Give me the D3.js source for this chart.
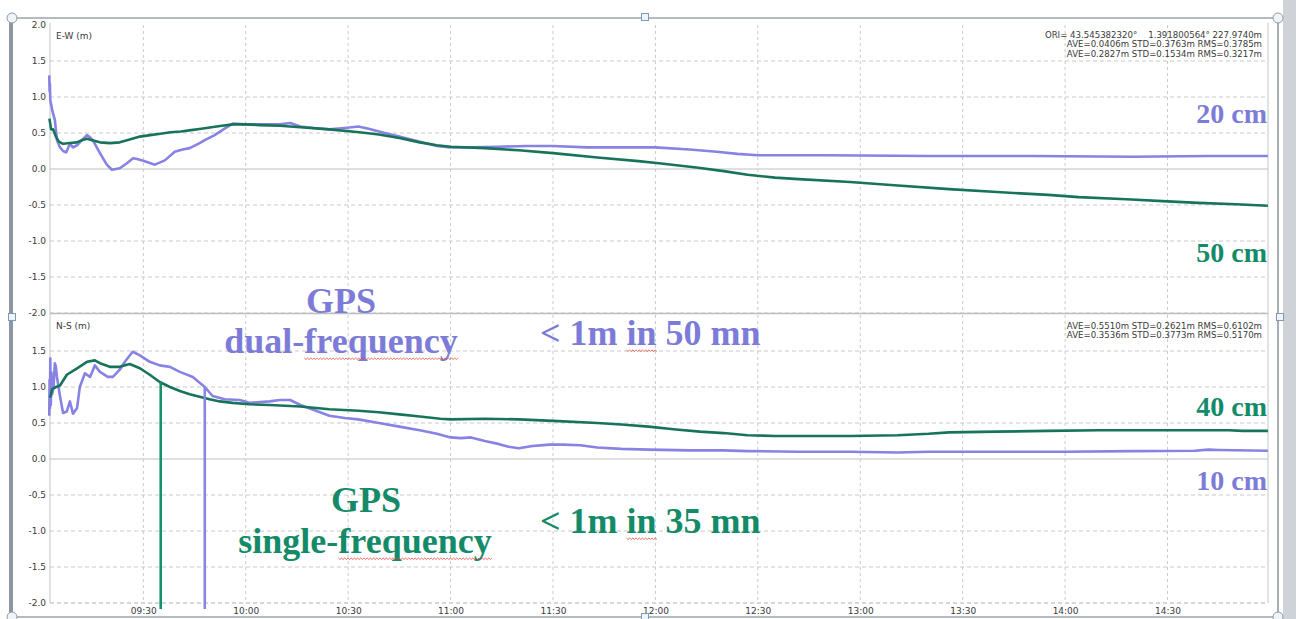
<!DOCTYPE html>
<html>
<head>
<meta charset="utf-8">
<script src="https://cdn.jsdelivr.net/npm/d3@7"></script>
<style>
  html, body { margin: 0; padding: 0; background: #fff; }
  svg { display: block; }
  .tick-label { font-family: "DejaVu Sans", sans-serif; font-size: 9px; fill: #3a3a3a; }
  .stats { font-family: "DejaVu Sans", sans-serif; font-size: 8.6px; fill: #3a3a3a; white-space: pre; }
  .big { font-family: "Liberation Serif", "Times New Roman", serif; font-weight: bold; }
</style>
</head>
<body>
<svg id="chart" width="1296" height="619"></svg>
<script>
// Positions in metres; time given in minutes after 09:00.
const ewSingle = [
  [2.5,0.70],[3.0,0.55],[3.6,0.55],[4.4,0.45],[5.3,0.38],[6.5,0.35],[8.5,0.36],[10.5,0.37],
  [12.0,0.40],[13.5,0.42],[15.0,0.40],[17.3,0.37],[20.2,0.36],[23.1,0.37],[26.0,0.41],[29.0,0.45],
  [32.0,0.47],[35.0,0.49],[38.0,0.51],[41.0,0.52],[44.0,0.54],[47.0,0.56],[50.0,0.58],[53.0,0.60],
  [56.2,0.62],[60,0.62],[64,0.61],[70,0.60],[76,0.58],[84.5,0.55],[93.3,0.51],[99,0.48],
  [105,0.43],[111,0.37],[116,0.33],[120,0.31],[130,0.29],[140,0.26],[150,0.22],[163,0.16],
  [175,0.11],[181,0.08],[192,0.02],[200,-0.03],[207,-0.08],[215,-0.12],[222,-0.14],[237,-0.18],
  [251,-0.23],[266,-0.28],[280,-0.32],[295,-0.36],[304,-0.39],[318,-0.42],[330,-0.45],[339,-0.47],
  [350,-0.49],[359.4,-0.51]
];
const ewDual = [
  [2.45,1.30],[2.55,1.08],[2.65,1.18],[2.75,0.95],[3.0,0.90],[3.4,0.80],[4.1,0.68],[4.7,0.40],
  [5.6,0.30],[6.5,0.25],[7.4,0.23],[8.5,0.35],[9.4,0.30],[10.6,0.33],[12.0,0.40],[13.5,0.47],
  [14.4,0.44],[15.2,0.40],[17.3,0.22],[19.3,0.06],[20.8,-0.01],[23.1,0.01],[25.2,0.08],[27.0,0.15],
  [28.2,0.14],[30.2,0.11],[33.4,0.06],[36.3,0.12],[39.2,0.24],[41.5,0.27],[43.6,0.29],[46.5,0.36],
  [48.0,0.40],[50.9,0.47],[53.8,0.56],[56.2,0.63],[60,0.62],[65,0.62],[70,0.62],[73,0.64],
  [76,0.59],[80,0.57],[84.5,0.55],[89,0.57],[93,0.59],[96,0.56],[99,0.52],[105,0.45],
  [111,0.38],[116,0.32],[120,0.30],[126,0.30],[134,0.31],[142,0.32],[150,0.32],[160,0.30],
  [170,0.30],[180,0.30],[190,0.27],[198,0.24],[204,0.21],[210,0.19],[230,0.19],[260,0.18],
  [290,0.18],[320,0.17],[342,0.18],[359.4,0.18]
];
const nsSingle = [
  [2.7,0.85],[3.3,0.97],[4.4,1.00],[5.6,1.02],[7.6,1.17],[10.6,1.26],[13.5,1.35],[15.8,1.37],
  [17.3,1.33],[20.2,1.28],[23.1,1.28],[26.0,1.32],[29.0,1.26],[31.9,1.17],[34.8,1.07],[37.8,1.00],
  [40.7,0.945],[43.6,0.90],[46.5,0.865],[49.4,0.83],[52.4,0.80],[56.2,0.78],[61.1,0.76],[67,0.75],
  [76,0.73],[84.5,0.69],[93,0.67],[99,0.65],[105,0.62],[111,0.59],[117,0.56],[120,0.55],
  [130,0.56],[140,0.55],[150,0.53],[163,0.50],[170,0.48],[178,0.45],[186,0.41],[193,0.38],
  [200,0.36],[207,0.33],[215,0.32],[222,0.32],[237,0.32],[251,0.33],[260,0.35],[266,0.37],
  [280,0.38],[295,0.39],[310,0.40],[330,0.40],[348,0.40],[352,0.39],[359.4,0.39]
];
const nsDual = [
  [2.45,0.60],[2.55,1.10],[2.65,0.70],[2.75,1.40],[2.9,0.75],[3.1,1.20],[3.3,0.90],[3.7,1.00],
  [4.1,1.33],[4.4,1.28],[4.7,1.14],[5.6,0.87],[6.5,0.64],[7.6,0.66],[8.5,0.80],[9.4,0.63],
  [10.6,0.71],[11.4,1.00],[12.9,1.19],[14.4,1.14],[15.8,1.30],[17.3,1.21],[19.6,1.14],[21.1,1.14],
  [23.1,1.24],[24.6,1.35],[26.9,1.49],[29.0,1.44],[31.9,1.35],[34.8,1.30],[37.8,1.28],[40.7,1.21],
  [44.5,1.14],[48.0,1.00],[50.3,0.875],[53.8,0.83],[58.2,0.82],[61.1,0.78],[67,0.80],[70,0.82],
  [73,0.82],[76,0.75],[80,0.68],[84.5,0.60],[89,0.57],[93,0.55],[99,0.50],[105,0.45],
  [111,0.40],[116,0.35],[120,0.30],[123,0.29],[126,0.30],[130,0.25],[134,0.21],[137,0.17],
  [140,0.15],[144,0.18],[149,0.20],[153,0.20],[158,0.19],[163,0.16],[170,0.14],[178,0.13],
  [190,0.12],[200,0.12],[207,0.11],[222,0.10],[237,0.10],[251,0.09],[260,0.10],[266,0.10],
  [280,0.10],[300,0.10],[320,0.11],[338,0.115],[342,0.13],[345,0.125],[359.4,0.115]
];

// Minutes after 09:00 at which each solution stays within 1 m, and the N-S value there
const convergeMin = [35.1, 48.0];
const convergeVal = [1.07, 1.00];

const timeTicks = ["09:30","10:00","10:30","11:00","11:30","12:00","12:30","13:00","13:30","14:00","14:30"];
const ewValueTicks = [-2, -1.5, -1, -0.5, 0, 0.5, 1, 1.5, 2];
const nsValueTicks = [-2, -1.5, -1, -0.5, 0, 0.5, 1, 1.5];
const timeDomainMin = [2.67, 359.43];

const ewStats = ["ORI= 43.545382320°    1.391800564° 227.9740m",
                 "AVE=0.0406m STD=0.3763m RMS=0.3785m",
                 "AVE=0.2827m STD=0.1534m RMS=0.3217m"];
const nsStats = ["AVE=0.5510m STD=0.2621m RMS=0.6102m",
                 "AVE=0.3536m STD=0.3773m RMS=0.5170m"];

const DUAL = "#8782e3", SINGLE = "#17745a";
const DUAL_TXT = "#7c7cd8", SINGLE_TXT = "#138a68";
const DUAL_MARK = "#8a85e2", SINGLE_MARK = "#16906b";

const svg = d3.select("#chart");
const base = new Date(2000, 0, 1, 9, 0, 0);
const toDate = m => new Date(base.getTime() + m * 60000);
const parseHM = d3.timeParse("%H:%M");
const hm = s => { const t = parseHM(s); return new Date(2000, 0, 1, t.getHours(), t.getMinutes()); };

const left = 50, right = 1268;
const x = d3.scaleTime().domain(timeDomainMin.map(toDate)).range([left, right]);
const yEW = d3.scaleLinear().domain([-2, 2]).range([313, 25]);
const yNS = d3.scaleLinear().domain([-2, 2]).range([603, 315]);

// ---- surrounding picture frame ----
svg.append("rect").attr("x", 1283).attr("y", 0).attr("width", 13).attr("height", 619).attr("fill", "#cfd2d6");
svg.append("rect").attr("x", 9).attr("y", 18).attr("width", 4).attr("height", 601).attr("fill", "#8c96a2");
svg.append("line").attr("x1", 12).attr("x2", 1278).attr("y1", 18).attr("y2", 18).attr("stroke", "#6d7782").attr("stroke-width", 1.2);
svg.append("line").attr("x1", 12).attr("x2", 1278).attr("y1", 617).attr("y2", 617).attr("stroke", "#6d7782").attr("stroke-width", 1.2);
svg.append("line").attr("x1", 1278).attr("x2", 1278).attr("y1", 18).attr("y2", 617).attr("stroke", "#6d7782").attr("stroke-width", 1.2);

function panel(y, ticks, dual, single, label, stats, top) {
  const g = svg.append("g");
  const y0 = y.range()[1], y1 = y.range()[0];

  // horizontal grid
  g.selectAll("line.hg").data(ticks.filter(v => v !== 0 && v !== 2)).join("line")
    .attr("x1", left).attr("x2", right)
    .attr("y1", d => y(d)).attr("y2", d => y(d))
    .attr("stroke", "#c9c9c9").attr("stroke-dasharray", "4,3").attr("stroke-width", 1);
  g.append("line").attr("x1", left).attr("x2", right).attr("y1", y(0)).attr("y2", y(0))
    .attr("stroke", "#d4d4d4").attr("stroke-width", 1.6);

  // vertical grid
  g.selectAll("line.vg").data(timeTicks).join("line")
    .attr("x1", d => x(hm(d))).attr("x2", d => x(hm(d)))
    .attr("y1", y0).attr("y2", y1)
    .attr("stroke", "#cacaca").attr("stroke-dasharray", "3,3").attr("stroke-width", 1);

  // plot borders
  g.append("line").attr("x1", left).attr("x2", left).attr("y1", y0 - 2).attr("y2", y1)
    .attr("stroke", "#c4c4c4").attr("stroke-width", 1);
  g.append("line").attr("x1", right).attr("x2", right).attr("y1", y0 - 2).attr("y2", y1)
    .attr("stroke", "#c4c4c4").attr("stroke-width", 1);

  // value axis labels
  const ax = d3.axisLeft(y).tickValues(ticks).tickSize(0).tickPadding(4).tickFormat(d => d.toFixed(1));
  const axg = g.append("g").attr("transform", `translate(${left},0)`).call(ax);
  axg.select(".domain").remove();
  axg.selectAll("text").attr("class", "tick-label").attr("fill", "#3a3a3a");

  // series
  const line = d3.line().x(d => x(toDate(d[0]))).y(d => y(d[1]));
  g.append("path").datum(dual).attr("d", line).attr("fill", "none")
    .attr("stroke", DUAL).attr("stroke-width", 2.6).attr("stroke-linejoin", "round");
  g.append("path").datum(single).attr("d", line).attr("fill", "none")
    .attr("stroke", SINGLE).attr("stroke-width", 2.6).attr("stroke-linejoin", "round");

  // panel title and statistics
  g.append("text").attr("x", 56).attr("y", y0 + 14).attr("class", "tick-label").text(label);
  g.selectAll("text.st").data(stats).join("text")
    .attr("class", "stats").attr("text-anchor", "end")
    .attr("x", 1262).attr("y", (d, i) => y0 + (top ? 12.5 : 13.5) + i * 9.6)
    .text(d => d);
  return g;
}

panel(yEW, ewValueTicks, ewDual, ewSingle, "E-W (m)", ewStats, true);
svg.append("line").attr("x1", left).attr("x2", right).attr("y1", 313.5).attr("y2", 313.5)
  .attr("stroke", "#bdbdbd").attr("stroke-width", 1.4);
panel(yNS, nsValueTicks, nsDual, nsSingle, "N-S (m)", nsStats, false);
svg.append("line").attr("x1", left).attr("x2", right).attr("y1", 603).attr("y2", 603)
  .attr("stroke", "#c9c9c9").attr("stroke-dasharray", "4,3");

// time axis labels
const xa = d3.axisBottom(x).tickValues(timeTicks.map(hm)).tickSize(0).tickPadding(5)
  .tickFormat(d3.timeFormat("%H:%M"));
const xg = svg.append("g").attr("transform", "translate(0,603)").call(xa);
xg.select(".domain").remove();
xg.selectAll("text").attr("class", "tick-label").attr("fill", "#3a3a3a");

// convergence markers in the N-S panel
[SINGLE_MARK, DUAL_MARK].forEach((c, i) => {
  svg.append("line")
    .attr("x1", x(toDate(convergeMin[i]))).attr("x2", x(toDate(convergeMin[i])))
    .attr("y1", yNS(convergeVal[i])).attr("y2", yNS(-2) + 6)
    .attr("stroke", c).attr("stroke-width", 2.6);
});

// annotations
function big(txt, xp, yp, size, color, anchor) {
  return svg.append("text").attr("class", "big").attr("x", xp).attr("y", yp)
    .attr("font-size", size).attr("fill", color).attr("text-anchor", anchor || "middle").text(txt);
}
function squiggle(textSel, start, count) {
  const node = textSel.node();
  const bb = node.getBBox();
  const x0 = bb.x + node.getSubStringLength(0, start);
  const w = node.getSubStringLength(start, count);
  const yb = +textSel.attr("y") + 5;
  let d = `M${x0},${yb}`;
  for (let k = 0, xx = x0; xx < x0 + w; k++) { xx += 1.6; d += `L${xx},${yb + (k % 2 ? 0 : 1.5)}`; }
  svg.append("path").attr("d", d).attr("fill", "none").attr("stroke", "#e0473e").attr("stroke-width", 0.8);
}

big("20 cm", 1267, 123, 28, DUAL_TXT, "end");
big("50 cm", 1267, 262, 28, SINGLE_TXT, "end");
big("40 cm", 1267, 416, 28, SINGLE_TXT, "end");
big("10 cm", 1267, 490, 28, DUAL_TXT, "end");

big("GPS", 341, 313, 36, DUAL_TXT);
const dualTxt = big("dual-frequency", 341, 353, 36, DUAL_TXT);
const dualConv = big("< 1m in 50 mn", 540, 345, 36, DUAL_TXT, "start");
big("GPS", 366, 512, 36, SINGLE_TXT);
const singleTxt = big("single-frequency", 365, 553, 36, SINGLE_TXT);
const singleConv = big("< 1m in 35 mn", 540, 533, 36, SINGLE_TXT, "start");

squiggle(dualTxt, 5, 9);
squiggle(singleTxt, 7, 9);
squiggle(dualConv, 5, 2);
squiggle(singleConv, 5, 2);

// selection handles
const handle = (cx, cy) => svg.append("circle").attr("cx", cx).attr("cy", cy).attr("r", 5)
  .attr("fill", "#eef4fa").attr("stroke", "#8e9aa6").attr("stroke-width", 1);
const sq = (cx, cy) => svg.append("rect").attr("x", cx - 3.5).attr("y", cy - 3.5).attr("width", 7).attr("height", 7)
  .attr("fill", "#eef4fa").attr("stroke", "#7f9ab5").attr("stroke-width", 1);
handle(12, 18); handle(1278, 18); handle(12, 617); handle(1278, 617);
sq(645, 17); sq(12, 317); sq(1280, 317); sq(645, 617);
</script>
</body>
</html>
